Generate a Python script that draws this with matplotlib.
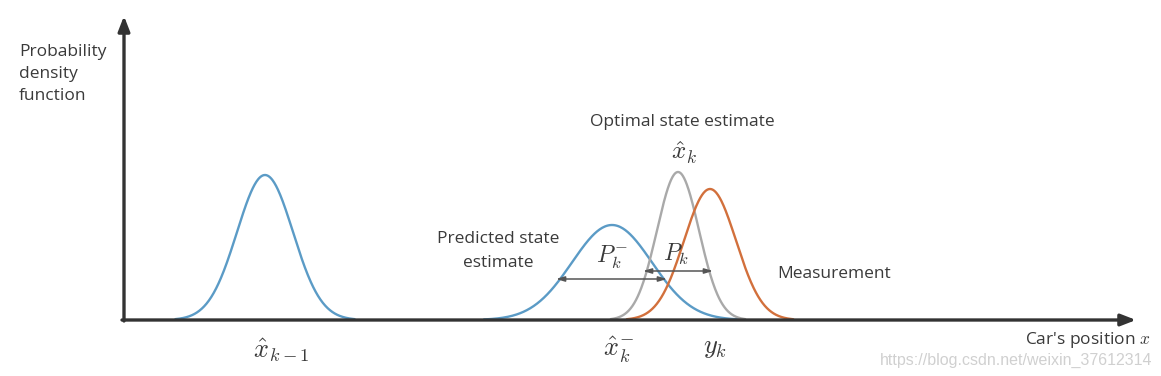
import numpy as np
import matplotlib.pyplot as plt

plt.rcParams['mathtext.fontset'] = 'cm'
plt.rcParams['font.family'] = ['Open Sans', 'DejaVu Sans']

# gaussian bumps, pixel-space: centre, spread, peak height above the axis
names = ['prev', 'pred', 'opt', 'meas']
centres = [265, 612, 678, 710]
spreads = [28, 40, 21, 26]
heights = [145, 95, 148, 131]
colors = ['#5b9bc6', '#5b9bc6', '#a9a9a9', '#d2703c']
base = 320

fig = plt.figure(figsize=(11.61, 3.76), dpi=100)
ax = fig.add_axes([0, 0, 1, 1])
ax.set_xlim(0, 1161)
ax.set_ylim(376, 0)
ax.axis('off')

for c, s, h, col in zip(centres, spreads, heights, colors):
    x = np.linspace(c - 3.2 * s, c + 3.2 * s, 300)
    y = base - h * np.exp(-0.5 * ((x - c) / s) ** 2)
    ax.plot(x, y, color=col, lw=1.7, solid_capstyle='round')

# axes with arrow heads
axcol = '#333333'
ax.annotate('', xy=(1136, base), xytext=(122, base),
            arrowprops=dict(arrowstyle='-|>,head_length=0.9,head_width=0.35',
                            color=axcol, lw=2.4, shrinkA=0, shrinkB=0))
ax.annotate('', xy=(124, 16), xytext=(124, base + 1),
            arrowprops=dict(arrowstyle='-|>,head_length=0.9,head_width=0.35',
                            color=axcol, lw=2.4, shrinkA=0, shrinkB=0))

# covariance width arrows
arrcol = '#555555'
ax.annotate('', xy=(556, 279), xytext=(667, 279),
            arrowprops=dict(arrowstyle='<|-|>,head_length=0.5,head_width=0.15',
                            color=arrcol, lw=1.1, shrinkA=0, shrinkB=0))
ax.annotate('', xy=(643, 271), xytext=(713, 271),
            arrowprops=dict(arrowstyle='<|-|>,head_length=0.5,head_width=0.15',
                            color=arrcol, lw=1.1, shrinkA=0, shrinkB=0))

tcol = '#3a3a3a'
fs = 12.5
ax.text(19, 74, 'Probability\ndensity\nfunction', fontsize=fs, color=tcol,
        ha='left', va='center', linespacing=1.5)
ax.text(682, 122, 'Optimal state estimate', fontsize=fs, color=tcol,
        ha='center', va='center')
ax.text(684, 153, r'$\hat{x}_k$', fontsize=18, color=tcol, ha='center', va='center')
ax.text(498, 251, 'Predicted state\nestimate', fontsize=fs, color=tcol,
        ha='center', va='center', linespacing=1.6)
ax.text(612, 257, r'$P_k^{-}$', fontsize=17, color=tcol, ha='center', va='center')
ax.text(676, 254, r'$P_k$', fontsize=17, color=tcol, ha='center', va='center')
ax.text(777, 274, 'Measurement', fontsize=fs, color=tcol, ha='left', va='center')

ax.text(281, 350, r'$\hat{x}_{k-1}$', fontsize=19, color=tcol, ha='center', va='center')
ax.text(619, 350, r'$\hat{x}_k^{-}$', fontsize=19, color=tcol, ha='center', va='center')
ax.text(715, 348, r'$y_k$', fontsize=19, color=tcol, ha='center', va='center')
ax.text(1150, 340, r"Car's position $x$", fontsize=fs, color=tcol, ha='right', va='center')

ax.text(1152, 360, 'https://blog.csdn.net/weixin_37612314', fontsize=11.5,
        color='#d0d0d0', ha='right', va='center', family='Liberation Sans')

fig.savefig('out.png', dpi=100, facecolor='white')
